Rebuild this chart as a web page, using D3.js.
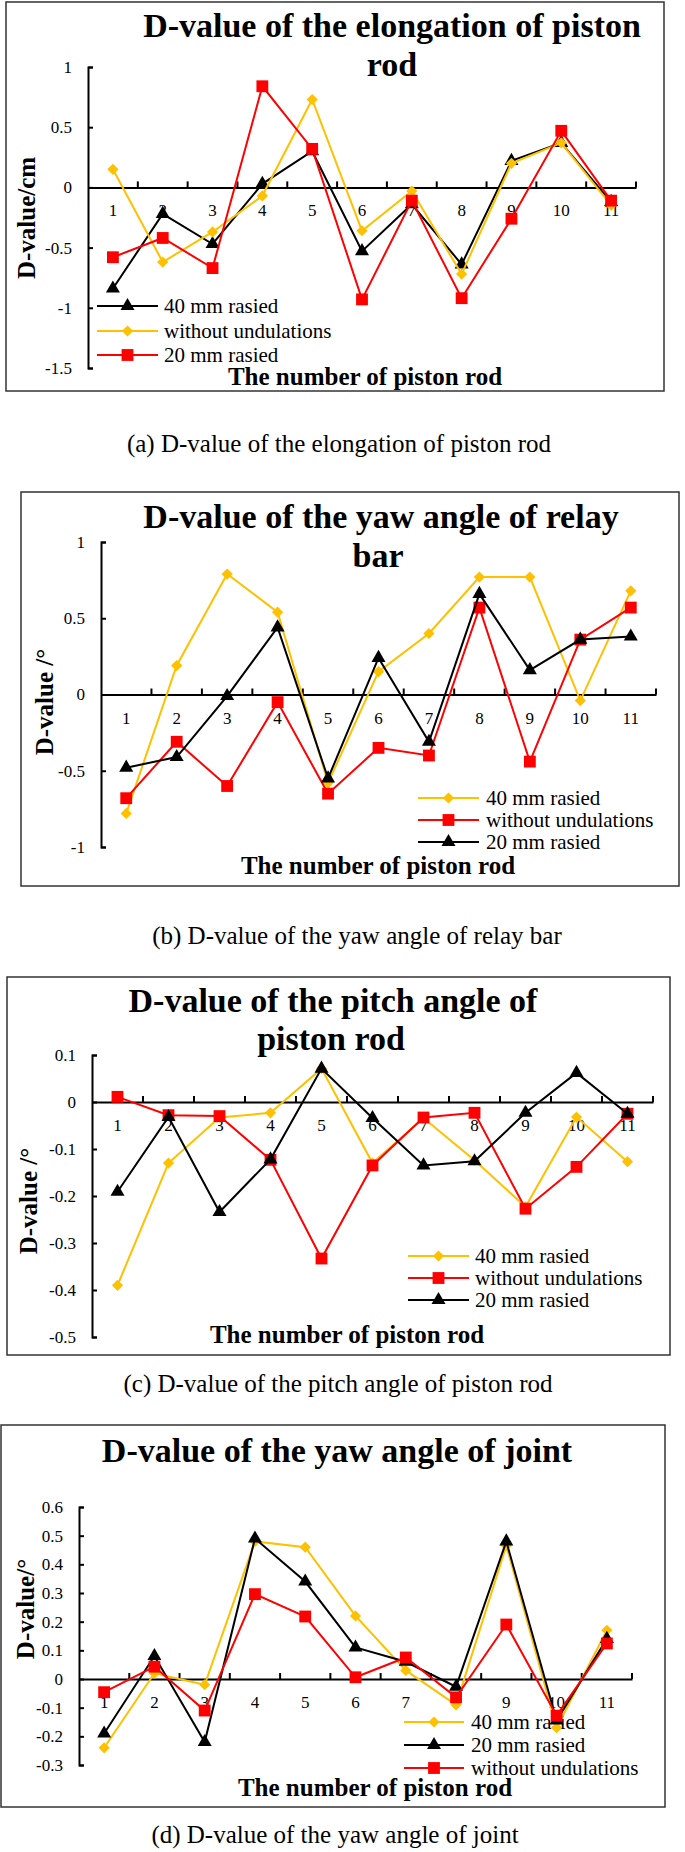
<!DOCTYPE html>
<html>
<head>
<meta charset="utf-8">
<script src="https://cdn.jsdelivr.net/npm/d3@7"></script>
<style>
  body { margin: 0; background: #fff; }
  text { font-family: "Liberation Serif", "Times New Roman", serif; fill: #000; }
</style>
</head>
<body>
<svg id="fig" width="685" height="1852"></svg>
<script>
// piston rod numbers on the x axis
const rods = ["1", "2", "3", "4", "5", "6", "7", "8", "9", "10", "11"];

// (a) elongation of piston rod, cm
const elong40   = [-0.84, -0.22, -0.47, 0.03, 0.30, -0.53, -0.14, -0.64, 0.22, 0.37, -0.12];
const elongFlat = [0.15, -0.62, -0.37, -0.07, 0.73, -0.36, -0.03, -0.72, 0.20, 0.37, -0.15];
const elong20   = [-0.58, -0.42, -0.67, 0.84, 0.32, -0.93, -0.11, -0.92, -0.26, 0.47, -0.11];
const elongTicks = [1, 0.5, 0, -0.5, -1, -1.5];

// (b) yaw angle of relay bar, deg
const relay40   = [-0.78, 0.19, 0.79, 0.54, -0.58, 0.15, 0.40, 0.77, 0.77, -0.04, 0.68];
const relayFlat = [-0.68, -0.31, -0.60, -0.05, -0.65, -0.35, -0.40, 0.57, -0.44, 0.36, 0.57];
const relay20   = [-0.48, -0.41, -0.01, 0.44, -0.55, 0.24, -0.31, 0.66, 0.16, 0.36, 0.38];
const relayTicks = [1, 0.5, 0, -0.5, -1];

// (c) pitch angle of piston rod, deg
const pitch40   = [-0.39, -0.13, -0.033, -0.023, 0.071, -0.13, -0.034, -0.124, -0.223, -0.032, -0.127];
const pitchFlat = [0.011, -0.028, -0.030, -0.123, -0.333, -0.135, -0.033, -0.023, -0.227, -0.138, -0.025];
const pitch20   = [-0.191, -0.032, -0.234, -0.122, 0.071, -0.034, -0.135, -0.126, -0.023, 0.062, -0.025];
const pitchTicks = [0.1, 0, -0.1, -0.2, -0.3, -0.4, -0.5];

// (d) yaw angle of joint, deg
const joint40   = [-0.24, 0.02, -0.02, 0.48, 0.46, 0.22, 0.03, -0.09, 0.465, -0.17, 0.17];
const joint20   = [-0.19, 0.08, -0.22, 0.49, 0.34, 0.11, 0.06, -0.027, 0.48, -0.145, 0.14];
const jointFlat = [-0.046, 0.043, -0.11, 0.296, 0.218, 0.006, 0.075, -0.064, 0.19, -0.128, 0.124];
const jointTicks = [0.6, 0.5, 0.4, 0.3, 0.2, 0.1, 0, -0.1, -0.2, -0.3];

const BLACK = "#000", GOLD = "#FFC000", RED = "#FF0000";
const MARK = {
  triangle: { type: d3.symbolTriangle, size: 85 },
  diamond:  { type: d3.symbolDiamond2 || d3.symbolDiamond, size: 80 },
  square:   { type: d3.symbolSquare, size: 140 }
};

const panels = [
  {
    box: [6, 2, 664, 391], x: [88, 636], y: [368, 67], ticks: elongTicks,
    title: [["D-value of the elongation of piston", 392, 37], ["rod", 392, 76]],
    ylab: ["D-value/cm", 35, 218], xlab: [365, 385],
    legend: { line: [97, 158], text: 164, rows: [306, 331, 355] },
    caption: ["(a) D-value of the elongation of piston rod", 339, 452],
    series: [
      { name: "40 mm rasied", values: elong40, color: BLACK, mark: "triangle" },
      { name: "without undulations", values: elongFlat, color: GOLD, mark: "diamond" },
      { name: "20 mm rasied", values: elong20, color: RED, mark: "square" }
    ]
  },
  {
    box: [21, 492, 679, 886], x: [101, 656], y: [847, 542], ticks: relayTicks,
    title: [["D-value of the yaw angle of relay", 381, 528], ["bar", 378, 567]],
    ylab: ["D-value /°", 53, 702], xlab: [378, 874],
    legend: { line: [418, 479], text: 486, rows: [798, 820, 842] },
    caption: ["(b) D-value of the yaw angle of relay bar", 357, 944],
    series: [
      { name: "40 mm rasied", values: relay40, color: GOLD, mark: "diamond" },
      { name: "without undulations", values: relayFlat, color: RED, mark: "square" },
      { name: "20 mm rasied", values: relay20, color: BLACK, mark: "triangle" }
    ]
  },
  {
    box: [7, 977, 670, 1355], x: [92, 653], y: [1337, 1055], ticks: pitchTicks,
    title: [["D-value of the pitch angle of", 333, 1012], ["piston rod", 331, 1050]],
    ylab: ["D-value /°", 37, 1201], xlab: [347, 1343],
    legend: { line: [408, 469], text: 475, rows: [1256, 1278, 1300] },
    caption: ["(c) D-value of the pitch angle of piston rod", 338, 1392],
    series: [
      { name: "40 mm rasied", values: pitch40, color: GOLD, mark: "diamond" },
      { name: "without undulations", values: pitchFlat, color: RED, mark: "square" },
      { name: "20 mm rasied", values: pitch20, color: BLACK, mark: "triangle" }
    ]
  },
  {
    box: [1, 1425, 665, 1807], x: [79, 632], y: [1765, 1507], ticks: jointTicks,
    title: [["D-value of the yaw angle of joint", 337, 1462]],
    ylab: ["D-value/°", 34, 1609], xlab: [375, 1796],
    legend: { line: [404, 464], text: 471, rows: [1722, 1745, 1768] },
    caption: ["(d) D-value of the yaw angle of joint", 335, 1843],
    series: [
      { name: "40 mm rasied", values: joint40, color: GOLD, mark: "diamond" },
      { name: "20 mm rasied", values: joint20, color: BLACK, mark: "triangle" },
      { name: "without undulations", values: jointFlat, color: RED, mark: "square" }
    ]
  }
];

const svg = d3.select("#fig");
const fmt = d => String(+d.toFixed(2));

panels.forEach(p => {
  const g = svg.append("g");

  g.append("rect")
    .attr("x", p.box[0]).attr("y", p.box[1])
    .attr("width", p.box[2] - p.box[0]).attr("height", p.box[3] - p.box[1])
    .attr("fill", "#fff").attr("stroke", "#333").attr("stroke-width", 1.5);

  const x = d3.scaleBand().domain(rods).range(p.x);
  const y = d3.scaleLinear().domain(d3.extent(p.ticks)).range(p.y);

  // y axis, ticks pointing inward
  const ya = g.append("g")
    .attr("transform", "translate(" + p.x[0] + ",0)")
    .call(d3.axisLeft(y).tickValues(p.ticks).tickSize(-5).tickPadding(16).tickFormat(fmt));
  ya.selectAll("path, line").attr("stroke", "#000").attr("stroke-width", 2);
  ya.selectAll("text").style("font-size", "17px").attr("fill", "#000");

  // x axis across zero, labels under the points
  const xa = g.append("g")
    .attr("transform", "translate(0," + y(0) + ")")
    .call(d3.axisBottom(x).tickSize(0).tickPadding(17));
  xa.select(".domain").attr("stroke", "#000").attr("stroke-width", 2);
  xa.selectAll("text").style("font-size", "17px").attr("fill", "#000");
  xa.selectAll(".bound")
    .data(rods)
    .enter()
    .append("line")
      .attr("x1", d => x(d) + x.bandwidth()).attr("x2", d => x(d) + x.bandwidth())
      .attr("y1", 0).attr("y2", -6)
      .attr("stroke", "#000").attr("stroke-width", 2);

  // titles
  p.title.forEach(t => {
    g.append("text").attr("x", t[1]).attr("y", t[2])
      .attr("text-anchor", "middle")
      .style("font-size", "34px").style("font-weight", "bold")
      .text(t[0]);
  });
  g.append("text")
    .attr("transform", "translate(" + p.ylab[1] + "," + p.ylab[2] + ") rotate(-90)")
    .attr("text-anchor", "middle")
    .style("font-size", "25px").style("font-weight", "bold")
    .text(p.ylab[0]);
  g.append("text").attr("x", p.xlab[0]).attr("y", p.xlab[1])
    .attr("text-anchor", "middle")
    .style("font-size", "25px").style("font-weight", "bold")
    .text("The number of piston rod");

  // legend
  const lg = g.selectAll(".leg")
    .data(p.series)
    .enter()
    .append("g")
      .attr("transform", (d, i) => "translate(0," + p.legend.rows[i] + ")");
  lg.append("line")
    .attr("x1", p.legend.line[0]).attr("x2", p.legend.line[1])
    .attr("stroke", d => d.color).attr("stroke-width", 2);
  lg.append("path")
    .attr("transform", "translate(" + (p.legend.line[0] + p.legend.line[1]) / 2 + ",0)")
    .attr("d", d => d3.symbol(MARK[d.mark].type, MARK[d.mark].size)())
    .attr("fill", d => d.color);
  lg.append("text")
    .attr("x", p.legend.text).attr("dy", "0.35em")
    .style("font-size", "21px")
    .text(d => d.name);

  // series: line then markers, in legend order
  const line = d3.line()
    .x((d, i) => x(rods[i]) + x.bandwidth() / 2)
    .y(d => y(d));

  p.series.forEach(s => {
    g.append("path")
      .attr("d", line(s.values))
      .attr("fill", "none")
      .attr("stroke", s.color)
      .attr("stroke-width", 2);
    g.selectAll(null)
      .data(s.values)
      .enter()
      .append("path")
        .attr("transform", (d, i) => "translate(" + (x(rods[i]) + x.bandwidth() / 2) + "," + y(d) + ")")
        .attr("d", d3.symbol(MARK[s.mark].type, MARK[s.mark].size)())
        .attr("fill", s.color);
  });

  svg.append("text").attr("x", p.caption[1]).attr("y", p.caption[2])
    .attr("text-anchor", "middle")
    .style("font-size", "25px")
    .text(p.caption[0]);
});
</script>
</body>
</html>
